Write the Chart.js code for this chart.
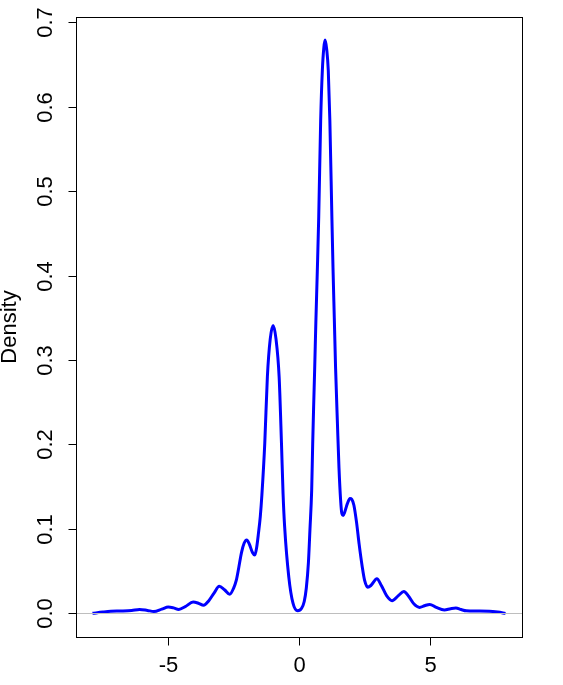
<!DOCTYPE html>
<html>
<head>
<meta charset="utf-8">
<script src="https://cdn.jsdelivr.net/npm/chart.js@4"></script>
<style>
  html, body { margin: 0; padding: 0; background: #fff; }
  canvas { display: block; }
</style>
</head>
<body>
<canvas id="densityChart" width="563" height="685"></canvas>
<script>
// density estimate
const densX = [-7.9, -7.5, -7.2, -6.8, -6.4, -6.1, -5.8, -5.55, -5.25, -5.0, -4.8, -4.6, -4.35, -4.05, -3.85, -3.65,
  -3.45, -3.25, -3.05, -2.85, -2.65, -2.5, -2.4, -2.3, -2.2, -2.1, -2.0, -1.9, -1.78, -1.69, -1.62, -1.55,
  -1.48, -1.42, -1.31, -1.21, -1.1, -0.99, -0.88, -0.76, -0.67, -0.61, -0.55, -0.39, -0.23, -0.05,
  0.1, 0.2, 0.28, 0.36, 0.42, 0.485, 0.523, 0.56, 0.6, 0.645, 0.7, 0.755, 0.829, 0.893, 0.95, 1.0,
  1.06, 1.12, 1.18, 1.26, 1.3, 1.35, 1.4, 1.47, 1.53, 1.59, 1.64, 1.69, 1.75, 1.85, 1.95, 2.02, 2.1, 2.2,
  2.3, 2.42, 2.51, 2.63, 2.75, 2.98, 3.15, 3.35, 3.56, 3.8, 4.01, 4.2, 4.4, 4.61, 4.8, 5.0, 5.25,
  5.56, 5.8, 6.0, 6.2, 6.4, 6.8, 7.28, 7.6, 7.9];
const densY = [0.0, 0.0015, 0.0024, 0.0028, 0.0035, 0.0047, 0.0035, 0.0022, 0.005, 0.0075, 0.0065, 0.0047, 0.008, 0.0134, 0.012, 0.0095,
  0.015, 0.024, 0.032, 0.028, 0.0225, 0.03, 0.039, 0.055, 0.072, 0.083, 0.087, 0.082, 0.072, 0.069, 0.078, 0.095,
  0.115, 0.14, 0.201, 0.28, 0.325, 0.341, 0.325, 0.28, 0.201, 0.142, 0.103, 0.043, 0.012, 0.003,
  0.006, 0.014, 0.03, 0.06, 0.1, 0.146, 0.2, 0.245, 0.29, 0.345, 0.405, 0.47, 0.584, 0.643, 0.67, 0.679,
  0.668, 0.643, 0.584, 0.466, 0.41, 0.35, 0.29, 0.225, 0.172, 0.135, 0.118, 0.116, 0.12, 0.13, 0.136, 0.135, 0.128, 0.108,
  0.082, 0.055, 0.039, 0.031, 0.033, 0.041, 0.033, 0.021, 0.015, 0.021, 0.026, 0.02, 0.011, 0.007, 0.009, 0.0106, 0.007,
  0.004, 0.0055, 0.0063, 0.0045, 0.003, 0.0027, 0.0025, 0.0015, 0.0];

const xTicks = [-5, 0, 5];
const yTicks = [0, 0.1, 0.2, 0.3, 0.4, 0.5, 0.6, 0.7];
const yLabel = 'Density';

const points = densX.map((x, i) => ({ x: x, y: densY[i] }));

// R-style box, ticks and labels, drawn from the chart's own scales
const rAxes = {
  id: 'rAxes',
  afterDatasetsDraw(chart) {
    const ctx = chart.ctx;
    const a = chart.chartArea;
    const xs = chart.scales.x;
    const ys = chart.scales.y;
    const L = Math.round(a.left) + 0.5, R = Math.round(a.right) + 0.5;
    const T = Math.round(a.top) + 0.5, B = Math.round(a.bottom) + 0.5;
    ctx.save();

    // abline(h = 0)
    const y0 = Math.round(ys.getPixelForValue(0)) + 0.5;
    ctx.strokeStyle = '#bebebe';
    ctx.lineWidth = 1;
    ctx.beginPath();
    ctx.moveTo(L, y0);
    ctx.lineTo(R, y0);
    ctx.stroke();

    ctx.strokeStyle = '#000';
    ctx.strokeRect(L, T, R - L, B - T);

    ctx.fillStyle = '#000';
    ctx.font = '22px "Liberation Sans", Arial, sans-serif';

    // x axis
    ctx.textAlign = 'center';
    ctx.textBaseline = 'alphabetic';
    xTicks.forEach(v => {
      const px = Math.round(xs.getPixelForValue(v)) + 0.5;
      ctx.beginPath();
      ctx.moveTo(px, B);
      ctx.lineTo(px, B + 8);
      ctx.stroke();
      ctx.fillText(String(v), px, 672);
    });

    // y axis, labels turned like las = 0
    yTicks.forEach(v => {
      const py = Math.round(ys.getPixelForValue(v)) + 0.5;
      ctx.beginPath();
      ctx.moveTo(L - 8, py);
      ctx.lineTo(L, py);
      ctx.stroke();
      ctx.save();
      ctx.translate(52, py);
      ctx.rotate(-Math.PI / 2);
      ctx.fillText(v.toFixed(1), 0, 0);
      ctx.restore();
    });

    ctx.save();
    ctx.translate(16, (a.top + a.bottom) / 2);
    ctx.rotate(-Math.PI / 2);
    ctx.fillText(yLabel, 0, 0);
    ctx.restore();

    ctx.restore();
  }
};

new Chart(document.getElementById('densityChart'), {
  type: 'line',
  data: {
    datasets: [{
      data: points,
      borderColor: '#0000ff',
      borderWidth: 3,
      pointRadius: 0,
      fill: false,
      cubicInterpolationMode: 'monotone'
    }]
  },
  options: {
    responsive: false,
    animation: false,
    layout: { padding: { left: 76, right: 41, top: 17, bottom: 48 } },
    plugins: { legend: { display: false }, tooltip: { enabled: false } },
    scales: {
      x: { type: 'linear', min: -8.53, max: 8.53, display: false },
      y: { type: 'linear', min: -0.028, max: 0.7063, display: false }
    }
  },
  plugins: [rAxes]
});
</script>
</body>
</html>
